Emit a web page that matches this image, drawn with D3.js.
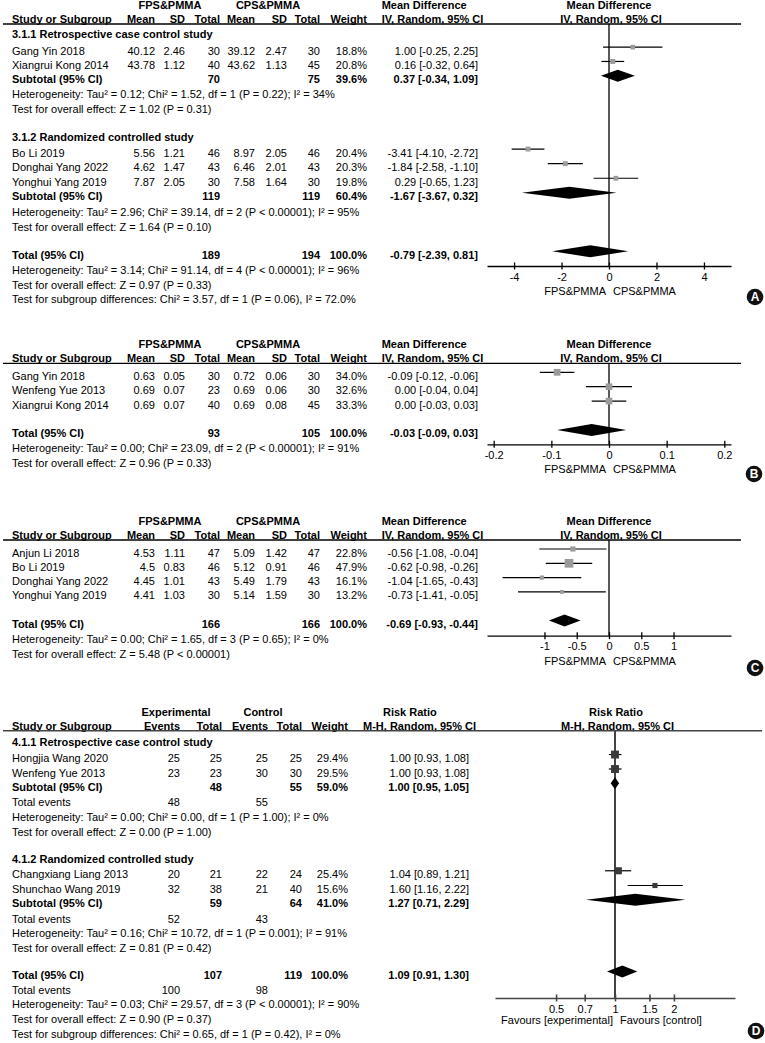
<!DOCTYPE html>
<html><head><meta charset="utf-8">
<script src="https://cdn.jsdelivr.net/npm/d3@7"></script>
<style>html,body{margin:0;padding:0;background:#fff;} svg{display:block;}</style>
</head><body>
<script>
// ================= DATA =================
// Panel A
const aGroupNames = ["3.1.1 Retrospective case control study", "3.1.2 Randomized controlled study"];
const aStudies = ["Gang Yin 2018", "Xiangrui Kong 2014", "Bo Li 2019", "Donghai Yang 2022", "Yonghui Yang 2019"];
const aMean1 = [40.12, 43.78, 5.56, 4.62, 7.87];
const aSD1 = [2.46, 1.12, 1.21, 1.47, 2.05];
const aN1 = [30, 40, 46, 43, 30];
const aMean2 = [39.12, 43.62, 8.97, 6.46, 7.58];
const aSD2 = [2.47, 1.13, 2.05, 2.01, 1.64];
const aN2 = [30, 45, 46, 43, 30];
const aWeight = [18.8, 20.8, 20.4, 20.3, 19.8];
const aMD = [1.00, 0.16, -3.41, -1.84, 0.29];
const aLo = [-0.25, -0.32, -4.10, -2.58, -0.65];
const aHi = [2.25, 0.64, -2.72, -1.10, 1.23];
const aSubN1 = [70, 119], aSubN2 = [75, 119], aSubW = [39.6, 60.4];
const aSubMD = [0.37, -1.67], aSubLo = [-0.34, -3.67], aSubHi = [1.09, 0.32];
const aSubHet = ["Heterogeneity: Tau² = 0.12; Chi² = 1.52, df = 1 (P = 0.22); I² = 34%",
                 "Heterogeneity: Tau² = 2.96; Chi² = 39.14, df = 2 (P < 0.00001); I² = 95%"];
const aSubZ = ["Test for overall effect: Z = 1.02 (P = 0.31)", "Test for overall effect: Z = 1.64 (P = 0.10)"];
const aTotN = [189, 194], aTotW = 100.0, aTotEst = [-0.79, -2.39, 0.81];
const aTotHet = "Heterogeneity: Tau² = 3.14; Chi² = 91.14, df = 4 (P < 0.00001); I² = 96%";
const aTotZ = "Test for overall effect: Z = 0.97 (P = 0.33)";
const aSubDiff = "Test for subgroup differences: Chi² = 3.57, df = 1 (P = 0.06), I² = 72.0%";
const aTicks = [-4, -2, 0, 2, 4];

// Panel B
const bStudies = ["Gang Yin 2018", "Wenfeng Yue 2013", "Xiangrui Kong 2014"];
const bMean1 = [0.63, 0.69, 0.69], bSD1 = [0.05, 0.07, 0.07], bN1 = [30, 23, 40];
const bMean2 = [0.72, 0.69, 0.69], bSD2 = [0.06, 0.06, 0.08], bN2 = [30, 30, 45];
const bWeight = [34.0, 32.6, 33.3];
const bMD = [-0.09, 0.00, 0.00], bLo = [-0.12, -0.04, -0.03], bHi = [-0.06, 0.04, 0.03];
const bTotN = [93, 105], bTotW = 100.0, bTotEst = [-0.03, -0.09, 0.03];
const bTotHet = "Heterogeneity: Tau² = 0.00; Chi² = 23.09, df = 2 (P < 0.00001); I² = 91%";
const bTotZ = "Test for overall effect: Z = 0.96 (P = 0.33)";
const bTicks = [-0.2, -0.1, 0, 0.1, 0.2];

// Panel C
const cStudies = ["Anjun Li 2018", "Bo Li 2019", "Donghai Yang 2022", "Yonghui Yang 2019"];
const cMean1 = [4.53, 4.5, 4.45, 4.41], cSD1 = [1.11, 0.83, 1.01, 1.03], cN1 = [47, 46, 43, 30];
const cMean2 = [5.09, 5.12, 5.49, 5.14], cSD2 = [1.42, 0.91, 1.79, 1.59], cN2 = [47, 46, 43, 30];
const cWeight = [22.8, 47.9, 16.1, 13.2];
const cMD = [-0.56, -0.62, -1.04, -0.73], cLo = [-1.08, -0.98, -1.65, -1.41], cHi = [-0.04, -0.26, -0.43, -0.05];
const cTotN = [166, 166], cTotW = 100.0, cTotEst = [-0.69, -0.93, -0.44];
const cTotHet = "Heterogeneity: Tau² = 0.00; Chi² = 1.65, df = 3 (P = 0.65); I² = 0%";
const cTotZ = "Test for overall effect: Z = 5.48 (P < 0.00001)";
const cTicks = [-1, -0.5, 0, 0.5, 1];

// Panel D
const dGroupNames = ["4.1.1 Retrospective case control study", "4.1.2 Randomized controlled study"];
const dStudies = ["Hongjia Wang 2020", "Wenfeng Yue 2013", "Changxiang Liang 2013", "Shunchao Wang 2019"];
const dEv1 = [25, 23, 20, 32], dTot1 = [25, 23, 21, 38];
const dEv2 = [25, 30, 22, 21], dTot2 = [25, 30, 24, 40];
const dWeight = [29.4, 29.5, 25.4, 15.6];
const dRR = [1.00, 1.00, 1.04, 1.60], dLo = [0.93, 0.93, 0.89, 1.16], dHi = [1.08, 1.08, 1.21, 2.22];
const dSubTot1 = [48, 59], dSubTot2 = [55, 64], dSubW = [59.0, 41.0];
const dSubEv1 = [48, 52], dSubEv2 = [55, 43];
const dSubRR = [1.00, 1.27], dSubLo = [0.95, 0.71], dSubHi = [1.05, 2.29];
const dSubHet = ["Heterogeneity: Tau² = 0.00; Chi² = 0.00, df = 1 (P = 1.00); I² = 0%",
                 "Heterogeneity: Tau² = 0.16; Chi² = 10.72, df = 1 (P = 0.001); I² = 91%"];
const dSubZ = ["Test for overall effect: Z = 0.00 (P = 1.00)", "Test for overall effect: Z = 0.81 (P = 0.42)"];
const dTotN = [107, 119], dTotW = 100.0, dTotEv = [100, 98], dTotEst = [1.09, 0.91, 1.30];
const dTotHet = "Heterogeneity: Tau² = 0.03; Chi² = 29.57, df = 3 (P < 0.00001); I² = 90%";
const dTotZ = "Test for overall effect: Z = 0.90 (P = 0.37)";
const dSubDiff = "Test for subgroup differences: Chi² = 0.65, df = 1 (P = 0.42), I² = 0%";
const dTicks = [0.5, 0.7, 1, 1.5, 2];

// ================= DRAWING =================
const FONT = "'Liberation Sans', Arial, Helvetica, sans-serif";
const svg = d3.select("body").append("svg").attr("width", 765).attr("height", 1043)
  .style("font-family", FONT).style("font-size", "11px");

function T(x, y, s, a = "start", b = false) {
  return svg.append("text").attr("x", x).attr("y", y).attr("text-anchor", a)
    .attr("font-weight", b ? "bold" : null).attr("fill", "#000").text(s);
}
const f2 = v => v.toFixed(2);
const ciTxt = (m, l, h) => `${f2(m)} [${f2(l)}, ${f2(h)}]`;
const pct = w => w.toFixed(1) + "%";
function line(x1, y1, x2, y2, col = "#000", w = 1.2) {
  return svg.append("line").attr("x1", x1).attr("y1", y1).attr("x2", x2).attr("y2", y2)
    .attr("stroke", col).attr("stroke-width", w);
}
function diamond(xs, y, m, l, h, hh = 6) {
  svg.append("polygon").attr("points",
    [[xs(l), y], [xs(m), y - hh], [xs(h), y], [xs(m), y + hh]].map(p => p.join(",")).join(" "))
    .attr("fill", "#000");
}
function square(xs, y, m, l, h, side, col) {
  line(xs(l), y, xs(h), y, "#000", 1.2);
  svg.append("rect").attr("x", xs(m) - side / 2).attr("y", y - side / 2)
    .attr("width", side).attr("height", side).attr("fill", col);
}
function drawAxis(xs, ticks, y, col = "#000", w = 1.3) {
  const ax = d3.axisBottom(xs).tickValues(ticks).tickFormat(d => String(d)).tickSizeOuter(0).tickSizeInner(3);
  const g = svg.append("g").attr("transform", `translate(0,${y})`).call(ax);
  g.attr("font-size", null).attr("font-family", null);
  g.select(".domain").attr("stroke", col).attr("stroke-width", w);
  g.selectAll(".tick line").attr("y1", -3.5).attr("y2", 3.5).attr("stroke", col).attr("stroke-width", w);
  g.selectAll(".tick text").attr("y", 7).attr("dy", "0.71em").attr("fill", "#000");
}
function badge(cx, cy, s) {
  svg.append("circle").attr("cx", cx).attr("cy", cy).attr("r", 8.3).attr("fill", "#111");
  T(cx, cy + 4.3, s, "middle", true).attr("fill", "#fff").attr("font-size", 12);
}
// column x positions (MD panels)
const MC = { name: 12, m1: 155, s1: 185, n1: 220, m2: 255, s2: 287, n2: 320, w: 367, est: 478 };
function mdHeader(L) {
  T(170, L - 15, "FPS&PMMA", "middle", true);
  T(268, L - 15, "CPS&PMMA", "middle", true);
  T(381.7, L - 15, "Mean Difference", "start", true);
  T(609, L - 15, "Mean Difference", "middle", true);
  T(MC.name, L - 1, "Study or Subgroup", "start", true);
  [["Mean", MC.m1], ["SD", MC.s1], ["Total", MC.n1], ["Mean", MC.m2], ["SD", MC.s2], ["Total", MC.n2], ["Weight", MC.w]]
    .forEach(([s, x]) => T(x, L - 1, s, "end", true));
  T(381.7, L - 1, "IV, Random, 95% CI", "start", true);
  T(611, L - 1, "IV, Random, 95% CI", "middle", true);
  line(3, L, 741, L, "#000", 1.3);
}
function mdStudy(b, i, S, M1, SD1, N1, M2, SD2, N2, W, MD, LO, HI, xs) {
  T(MC.name, b, S[i]);
  T(MC.m1, b, String(M1[i]), "end"); T(MC.s1, b, String(SD1[i]), "end"); T(MC.n1, b, String(N1[i]), "end");
  T(MC.m2, b, String(M2[i]), "end"); T(MC.s2, b, String(SD2[i]), "end"); T(MC.n2, b, String(N2[i]), "end");
  T(MC.w, b, pct(W[i]), "end");
  T(MC.est, b, ciTxt(MD[i], LO[i], HI[i]), "end");
  square(xs, b - 7.5, MD[i], LO[i], HI[i], 2 + W[i] * 0.14, "#9b9b9b");
}
function mdPooled(b, label, n1, n2, w, m, l, h, xs) {
  T(MC.name, b, label, "start", true);
  T(MC.n1, b, String(n1), "end", true); T(MC.n2, b, String(n2), "end", true);
  T(MC.w, b, pct(w), "end", true);
  T(MC.est, b, ciTxt(m, l, h), "end", true);
  diamond(xs, b - 7.5, m, l, h);
}
function favours(y, l, r, x0) {
  T(x0 - 3, y, l, "end"); T(x0 + 4, y, r, "start");
}

// ---------- Panel A ----------
{
  const L = 24, axisY = 266;
  const xs = d3.scaleLinear().domain([-5.14, 5.14]).range([487, 731]);
  const row = d3.scaleLinear().domain([0, 1]).range([38.3, 52.9]);
  mdHeader(L);
  line(xs(0), L, xs(0), axisY, "#000", 1.3);
  const studyIdx = [1.12, 2.1, 8.1, 9.1, 10.1];
  const gIdx = [0, 7.02], subIdx = [3.08, 11.1], hetIdx = [4.1, 12.18], zIdx = [5.14, 13.2];
  [0, 1].forEach(g => {
    T(MC.name, row(gIdx[g]), aGroupNames[g], "start", true);
    mdPooled(row(subIdx[g]), "Subtotal (95% CI)", aSubN1[g], aSubN2[g], aSubW[g], aSubMD[g], aSubLo[g], aSubHi[g], xs);
    T(MC.name, row(hetIdx[g]), aSubHet[g]);
    T(MC.name, row(zIdx[g]), aSubZ[g]);
  });
  aStudies.forEach((s, i) => mdStudy(row(studyIdx[i]), i, aStudies, aMean1, aSD1, aN1, aMean2, aSD2, aN2, aWeight, aMD, aLo, aHi, xs));
  mdPooled(row(15.1), "Total (95% CI)", aTotN[0], aTotN[1], aTotW, aTotEst[0], aTotEst[1], aTotEst[2], xs);
  T(MC.name, row(16.13), aTotHet);
  T(MC.name, row(17.16), aTotZ);
  T(MC.name, row(18.16), aSubDiff);
  drawAxis(xs, aTicks, axisY);
  favours(axisY + 29, "FPS&PMMA", "CPS&PMMA", xs(0));
  badge(755, 297, "A");
}
// ---------- Panel B ----------
{
  const L = 363.3, axisY = 444.3;
  const xs = d3.scaleLinear().domain([-0.2116, 0.2116]).range([487, 731]);
  const row = d3.scaleLinear().domain([0, 1]).range([379.8, 394.2]);
  mdHeader(L);
  line(xs(0), L, xs(0), axisY, "#000", 1.3);
  bStudies.forEach((s, i) => mdStudy(row(i), i, bStudies, bMean1, bSD1, bN1, bMean2, bSD2, bN2, bWeight, bMD, bLo, bHi, xs));
  mdPooled(row(4.0), "Total (95% CI)", bTotN[0], bTotN[1], bTotW, bTotEst[0], bTotEst[1], bTotEst[2], xs);
  T(MC.name, row(5.02), bTotHet);
  T(MC.name, row(6.06), bTotZ);
  drawAxis(xs, bTicks, axisY);
  favours(axisY + 29, "FPS&PMMA", "CPS&PMMA", xs(0));
  badge(754, 474, "B");
}
// ---------- Panel C ----------
{
  const L = 540, axisY = 635.7;
  const xs = d3.scaleLinear().domain([-1.891, 1.891]).range([487, 731]);
  const row = d3.scaleLinear().domain([0, 1]).range([556.5, 570.8]);
  mdHeader(L);
  line(xs(0), L, xs(0), axisY, "#000", 1.3);
  cStudies.forEach((s, i) => mdStudy(row(i), i, cStudies, cMean1, cSD1, cN1, cMean2, cSD2, cN2, cWeight, cMD, cLo, cHi, xs));
  mdPooled(row(5.0), "Total (95% CI)", cTotN[0], cTotN[1], cTotW, cTotEst[0], cTotEst[1], cTotEst[2], xs);
  T(MC.name, row(6.05), cTotHet);
  T(MC.name, row(7.1), cTotZ);
  drawAxis(xs, cTicks, axisY);
  favours(axisY + 29, "FPS&PMMA", "CPS&PMMA", xs(0));
  badge(755, 668, "C");
}
// ---------- Panel D ----------
{
  const L = 730.7, axisY = 998;
  const DC = { name: 12, e1: 180, t1: 222, e2: 268, t2: 302, w: 348, est: 469 };
  const k = 85, cx = 615;
  const xs = d3.scaleLog().domain([Math.exp((495 - cx) / k), Math.exp((735 - cx) / k)]).range([495, 735]);
  const row = d3.scaleLinear().domain([0, 1]).range([745.7, 760.3]);
  const dcol = "#444";
  T(176, L - 15, "Experimental", "middle", true);
  T(263, L - 15, "Control", "middle", true);
  T(383, L - 15, "Risk Ratio", "start", true);
  T(616, L - 15, "Risk Ratio", "middle", true);
  T(DC.name, L - 1, "Study or Subgroup", "start", true);
  [["Events", DC.e1], ["Total", DC.t1], ["Events", DC.e2], ["Total", DC.t2], ["Weight", DC.w]]
    .forEach(([s, x]) => T(x, L - 1, s, "end", true));
  T(363, L - 1, "M-H, Random, 95% CI", "start", true);
  T(617.5, L - 1, "M-H, Random, 95% CI", "middle", true);
  line(3, L, 762, L, dcol, 1.6);
  line(xs(1), L, xs(1), axisY, dcol, 2);

  const studyIdx = [1.12, 2.11, 9.08, 10.09];
  const gIdx = [0, 8.05], subIdx = [3.08, 11.07], evIdx = [4.15, 12.14], hetIdx = [5.14, 13.12], zIdx = [6.16, 14.15];
  [0, 1].forEach(g => {
    T(DC.name, row(gIdx[g]), dGroupNames[g], "start", true);
    const b = row(subIdx[g]);
    T(DC.name, b, "Subtotal (95% CI)", "start", true);
    T(DC.t1, b, String(dSubTot1[g]), "end", true); T(DC.t2, b, String(dSubTot2[g]), "end", true);
    T(DC.w, b, pct(dSubW[g]), "end", true);
    T(DC.est, b, ciTxt(dSubRR[g], dSubLo[g], dSubHi[g]), "end", true);
    diamond(xs, b - 7.5, dSubRR[g], dSubLo[g], dSubHi[g]);
    const e = row(evIdx[g]);
    T(DC.name, e, "Total events");
    T(DC.e1, e, String(dSubEv1[g]), "end"); T(DC.e2, e, String(dSubEv2[g]), "end");
    T(DC.name, row(hetIdx[g]), dSubHet[g]);
    T(DC.name, row(zIdx[g]), dSubZ[g]);
  });
  dStudies.forEach((s, i) => {
    const b = row(studyIdx[i]);
    T(DC.name, b, s);
    T(DC.e1, b, String(dEv1[i]), "end"); T(DC.t1, b, String(dTot1[i]), "end");
    T(DC.e2, b, String(dEv2[i]), "end"); T(DC.t2, b, String(dTot2[i]), "end");
    T(DC.w, b, pct(dWeight[i]), "end");
    T(DC.est, b, ciTxt(dRR[i], dLo[i], dHi[i]), "end");
    square(xs, b - 7.5, dRR[i], dLo[i], dHi[i], 2 + dWeight[i] * 0.2, "#3a3a3a");
  });
  const tb = row(15.98);
  T(DC.name, tb, "Total (95% CI)", "start", true);
  T(DC.t1, tb, String(dTotN[0]), "end", true); T(DC.t2, tb, String(dTotN[1]), "end", true);
  T(DC.w, tb, pct(dTotW), "end", true);
  T(DC.est, tb, ciTxt(dTotEst[0], dTotEst[1], dTotEst[2]), "end", true);
  diamond(xs, tb - 7.5, dTotEst[0], dTotEst[1], dTotEst[2]);
  const te = row(17.01);
  T(DC.name, te, "Total events");
  T(DC.e1, te, String(dTotEv[0]), "end"); T(DC.e2, te, String(dTotEv[1]), "end");
  T(DC.name, row(17.99), dTotHet);
  T(DC.name, row(19.01), dTotZ);
  T(DC.name, row(20.02), dSubDiff);
  drawAxis(xs, dTicks, axisY, dcol, 1.6);
  favours(axisY + 26, "Favours [experimental]", "Favours [control]", xs(1) + 1);
  badge(756, 1031, "D");
}
</script>
</body></html>
